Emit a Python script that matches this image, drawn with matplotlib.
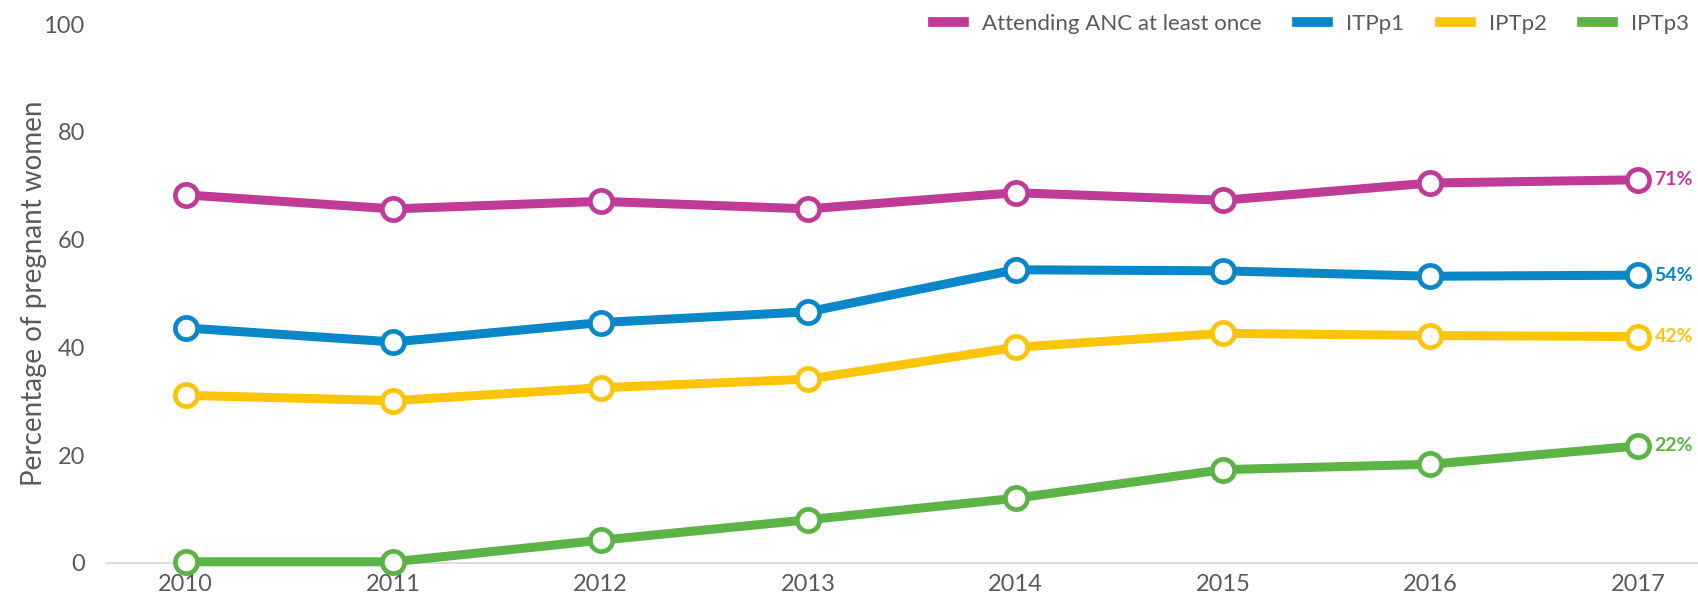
import matplotlib as mpl
import matplotlib.pyplot as plt
from matplotlib.lines import Line2D

mpl.rcParams.update({
    "font.family": ["Lato", "DejaVu Sans"],
})

years = [2010, 2011, 2012, 2013, 2014, 2015, 2016, 2017]
anc = [68.3, 65.7, 67.1, 65.7, 68.7, 67.3, 70.5, 71.1]
iptp1 = [43.6, 41.0, 44.6, 46.6, 54.4, 54.2, 53.2, 53.4]
iptp2 = [31.1, 30.1, 32.5, 34.1, 40.0, 42.6, 42.2, 42.0]
iptp3 = [0.2, 0.2, 4.2, 8.0, 12.0, 17.3, 18.3, 21.7]

series_labels = ["Attending ANC at least once", "ITPp1", "IPTp2", "IPTp3"]
end_labels = ["71%", "54%", "42%", "22%"]
colors = ["#bf3b97", "#0a87c9", "#fcc50a", "#5cb446"]

TEXT = "#5a5a5a"


def main():
    fig = plt.figure(figsize=(16.98, 6.02), dpi=100)
    ax = fig.add_axes([0.063, 0.065, 0.937, 0.895])

    for vals, col, lab in zip([anc, iptp1, iptp2, iptp3], colors, end_labels):
        ax.plot(years, vals, color=col, lw=6.5, marker="o", ms=16,
                mfc="white", mec=col, mew=3.4, clip_on=False, zorder=3)
        ax.annotate(lab, (years[-1], vals[-1]), xytext=(12, 0),
                    textcoords="offset points", va="center", ha="left",
                    color=col, fontsize=14, fontweight="bold",
                    annotation_clip=False)

    ax.set_xlim(2009.62, 2017.29)
    ax.set_ylim(0, 100)
    ax.set_xticks(years)
    ax.set_yticks([0, 20, 40, 60, 80, 100])
    ax.tick_params(length=0, labelsize=17, labelcolor=TEXT)
    ax.tick_params(axis="y", pad=16)
    ax.tick_params(axis="x", pad=8)
    for s in ["top", "right", "left"]:
        ax.spines[s].set_visible(False)
    ax.spines["bottom"].set_color("#dddddd")
    ax.spines["bottom"].set_linewidth(1.5)
    ax.spines["bottom"].set_zorder(1)

    ax.set_ylabel("Percentage of pregnant women", fontsize=20, color=TEXT)
    ax.yaxis.set_label_coords(-0.038, 0.5)

    handles = [Line2D([], [], color=c, lw=7) for c in colors]
    ax.legend(handles, series_labels, loc="upper right", ncol=4,
              bbox_to_anchor=(1.0, 1.035), frameon=False, fontsize=16,
              labelcolor=TEXT, handlelength=1.4, handletextpad=0.8,
              columnspacing=1.6, borderaxespad=0)

    fig.savefig("out.png", dpi=100)
    plt.close(fig)


if __name__ == "__main__":
    main()
